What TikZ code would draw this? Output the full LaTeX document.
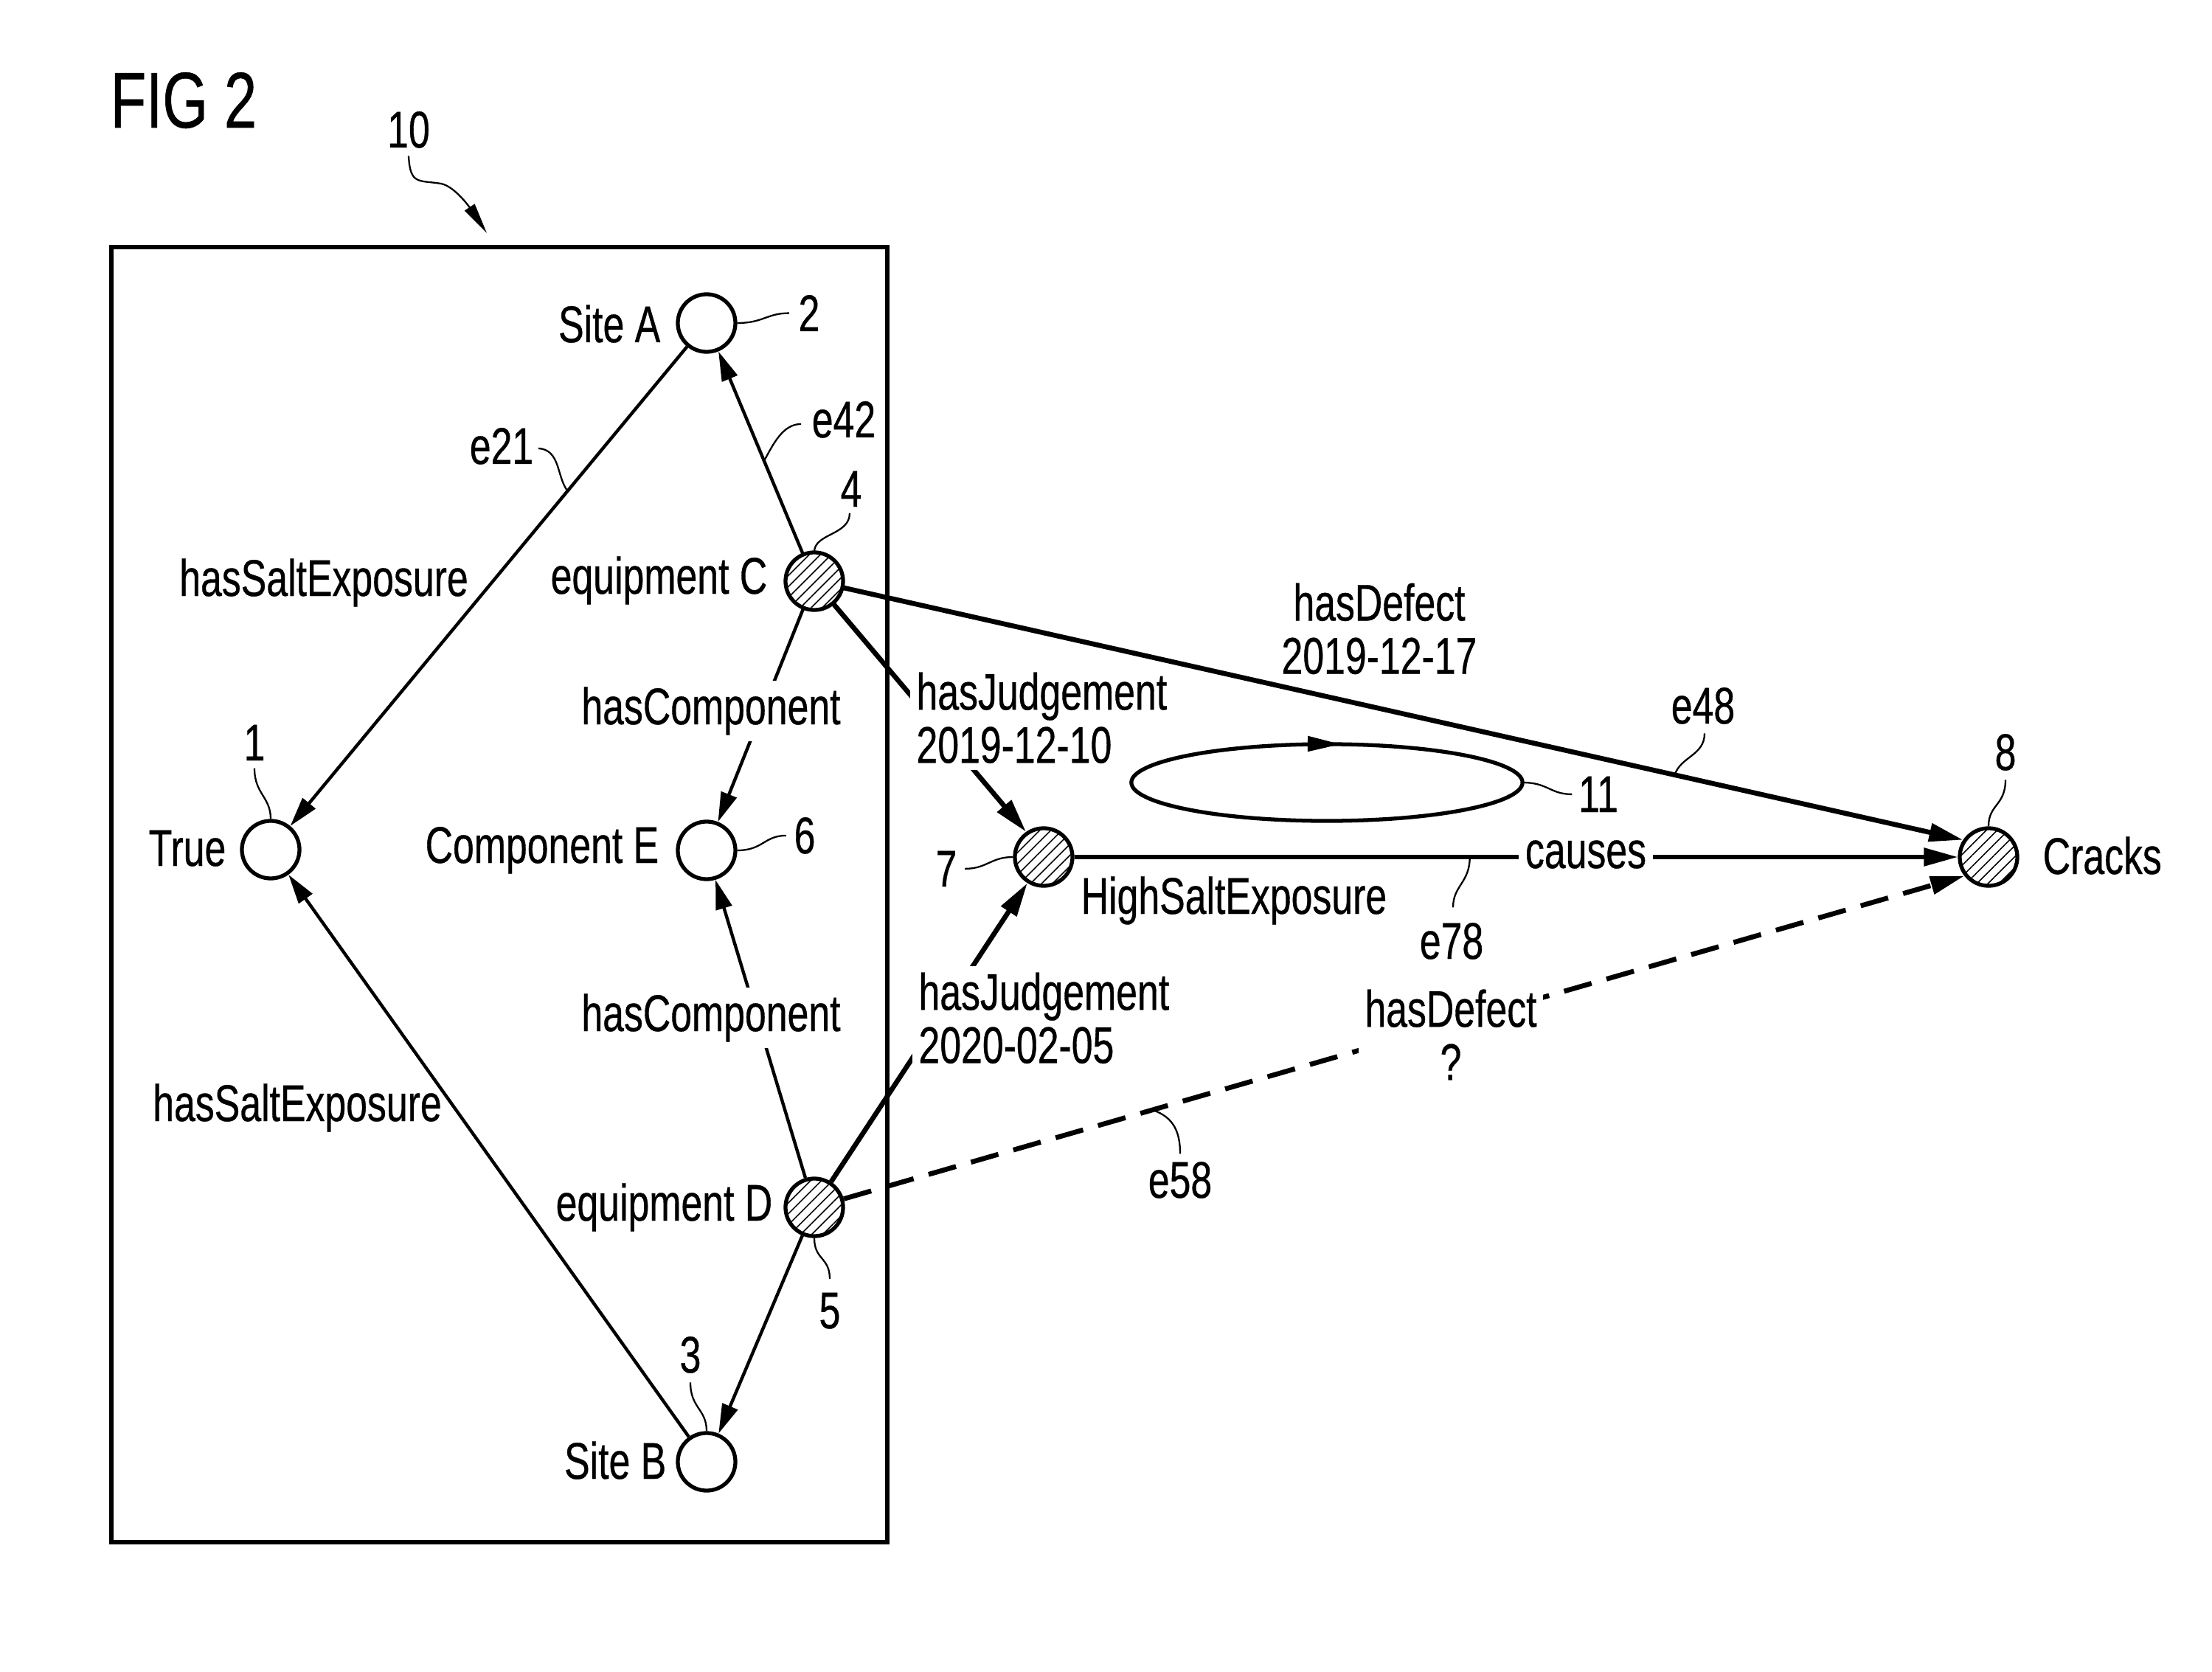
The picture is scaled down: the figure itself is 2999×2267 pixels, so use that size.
\documentclass[tikz,border=0pt]{standalone}
\usepackage{fontspec}
\setmainfont{Liberation Sans}[FakeStretch=0.74, FakeBold=0.5]
\usepackage{tikz}
\usetikzlibrary{positioning}
\usetikzlibrary{patterns.meta}
\usetikzlibrary{arrows.meta}
\usetikzlibrary{decorations.markings}
\usetikzlibrary{calc}

\newcommand{\lblfont}{\fontsize{19.9pt}{20.5pt}\selectfont}
\newcommand{\figfont}{\fontsize{30.5pt}{36pt}\selectfont}

\begin{document}
\begin{tikzpicture}[x=0.01cm, y=-0.01cm, font=\lblfont,
	ent/.style={circle, draw, line width=1.5pt, minimum size=0.78cm, inner sep=0pt},
	hatched/.style={ent, pattern={Lines[angle=45, distance=3pt, line width=0.45pt]}},
	lbl/.style={inner sep=0pt},
	cover/.style={fill=white, inner sep=2.5pt},
	rel/.style={line width=1.25pt, -{Triangle[length=0.4cm, width=0.22cm]}},
	relthick/.style={line width=1.9pt, -{Triangle[length=0.46cm, width=0.24cm]}},
	lead/.style={line width=0.65pt},
	ring/.style={line width=1.5pt, postaction={decorate},
		decoration={markings, mark=at position 0.233 with {\arrowreversed{Triangle[length=0.45cm, width=0.2cm]}}}}]

\useasboundingbox (0,0) rectangle (2999,2267);

\node[lbl, anchor=base west, font=\figfont] (fig) at (149,173) {FIG 2};

% frame 10
\draw[line width=1.5pt] (151,335) rectangle (1203,2091);
\coordinate (p10) at (660,316);
\node[lbl, anchor=base] (n10) at (554,200) {10};
\draw[lead, -{Triangle[length=0.42cm, width=0.16cm]}] ($(n10.south)+(0,10)$) .. controls +(2,40) and +(-30,-5) .. (598,249) .. controls +(20,4) and +(-20,-30) .. (p10);

% entities
\node[ent] (true) at (367,1152) {};
\node[ent] (siteA) at (958,438) {};
\node[ent] (compE) at (958,1153) {};
\node[ent] (siteB) at (958,1982) {};
\node[hatched] (eqC) at (1104,788) {};
\node[hatched] (eqD) at (1104,1637) {};
\node[hatched] (salt) at (1415,1162) {};
\node[hatched] (cracks) at (2696,1162) {};

\node[lbl, anchor=base east] (tTrue) at (307,1174) {True};
\node[lbl, anchor=base east] (tA) at (896,464) {Site A};
\node[lbl, anchor=base east] (tE) at (894,1170) {Component E};
\node[lbl, anchor=base east] (tB) at (904,2005) {Site B};
\node[lbl, anchor=base east] (tC) at (1041,805) {equipment C};
\node[lbl, anchor=base east] (tD) at (1048,1655) {equipment D};
\node[lbl, anchor=base west] (tSalt) at (1465,1239) {HighSaltExposure};
\node[lbl, anchor=base west] (tCracks) at (2769,1185) {Cracks};

% relations
\draw[rel] (siteA) -- (true);
\draw[rel] (siteB) -- (true);
\draw[rel] (eqC) -- (siteA);
\draw[rel] (eqC) -- (compE);
\draw[rel] (eqD) -- (compE);
\draw[rel] (eqD) -- (siteB);
\draw[relthick] (eqC) -- (cracks.146);
\draw[relthick] (eqC) -- (salt.125);
\draw[relthick] (eqD) -- (salt.238);
\draw[relthick, line width=1.6pt] (salt) -- (cracks);
\draw[relthick, dash pattern=on 11pt off 6pt] (eqD) -- (cracks.218);

% relation labels
\node[lbl] (salt1) at (439,808) [anchor=base] {hasSaltExposure};
\node[lbl] (salt2) at (403,1520) [anchor=base] {hasSaltExposure};
\node[cover, anchor=base] (comp1) at (964,982) {hasComponent};
\node[cover, anchor=base] (comp2) at (964,1398) {hasComponent};
\node[cover, anchor=north west, align=left] (judge1) at (1233,902) {hasJudgement\\2019-12-10};
\node[cover, anchor=north west, align=left] (judge2) at (1236,1309) {hasJudgement\\2020-02-05};
\node[lbl, anchor=north, align=center] (defect1) at (1870,790) {hasDefect\\2019-12-17};
\node[cover, anchor=north, align=center] (defect2) at (1967,1332) {hasDefect\\?};
\node[cover, anchor=base] (causes) at (2150,1177) {causes};

% loop 11
\coordinate (loop) at (1799,1061);
\draw[ring] (loop) ellipse [x radius=2.65cm, y radius=0.52cm];

% edge names
\node[lbl, anchor=base] (le21) at (680,629) {e21};
\node[lbl, anchor=base] (le42) at (1144,593) {e42};
\node[lbl, anchor=base] (le48) at (2309,981) {e48};
\node[lbl, anchor=base] (le78) at (1968,1300) {e78};
\node[lbl, anchor=base] (le58) at (1600,1624) {e58};

\coordinate (e21pt) at ($(siteA)!0.319!(true)$);
\coordinate (e42pt) at ($(eqC)!0.466!(siteA)$);
\coordinate (e48pt) at ($(eqC)!0.749!(cracks.146)$);
\coordinate (e78pt) at ($(salt)!0.451!(cracks)$);
\coordinate (e58pt) at ($(eqD)!0.294!(cracks.218)$);

\draw[lead] ($(le21.east)+(6,3)$) .. controls +(30,2) and +(-15,-20) .. (e21pt);
\draw[lead] ($(le42.west)+(-14,6)$) .. controls +(-25,0) and +(12,-22) .. (e42pt);
\draw[lead] ($(le48.south)+(2,12)$) .. controls +(0,30) and +(8,-25) .. (e48pt);
\draw[lead] (e78pt) .. controls +(0,35) and +(0,-30) .. ($(le78.north)+(2,-20)$);
\draw[lead] (e58pt) .. controls +(30,10) and +(0,-28) .. ($(le58.north)+(0,-10)$);

% reference numerals
\node[lbl, anchor=base] (n1) at (345,1031) {1};
\node[lbl, anchor=base] (n2) at (1097,449) {2};
\node[lbl, anchor=base] (n3) at (936,1861) {3};
\node[lbl, anchor=base] (n4) at (1154,687) {4};
\node[lbl, anchor=base] (n5) at (1125,1801) {5};
\node[lbl, anchor=base] (n6) at (1091,1157) {6};
\node[lbl, anchor=base] (n7) at (1283,1202) {7};
\node[lbl, anchor=base] (n8) at (2719,1044) {8};
\node[lbl, anchor=base] (n11) at (2167,1101) {11};

\draw[lead] ($(n1.south)+(0,10)$) .. controls +(0,35) and +(0,-30) .. (true.north);
\draw[lead] (siteA.east) .. controls +(35,0) and +(-30,0) .. ($(n2.west)+(-12,0)$);
\draw[lead] ($(n3.south)+(0,12)$) .. controls +(0,35) and +(0,-30) .. (siteB.north);
\draw[lead] ($(n4.south)+(-2,8)$) .. controls +(0,30) and +(0,-25) .. (eqC.north);
\draw[lead] ($(n5.north)+(0,-18)$) .. controls +(0,-30) and +(0,30) .. (eqD.south);
\draw[lead] (compE.east) .. controls +(35,0) and +(-30,0) .. ($(n6.west)+(-10,0)$);
\draw[lead] ($(n7.east)+(10,0)$) .. controls +(30,0) and +(-30,0) .. (salt.west);
\draw[lead] ($(n8.south)+(0,12)$) .. controls +(0,35) and +(0,-30) .. (cracks.north);
\draw[lead] ($(loop)+(265,0)$) .. controls +(35,0) and +(-30,0) .. ($(n11.west)+(-8,0)$);
\end{tikzpicture}
\end{document}
